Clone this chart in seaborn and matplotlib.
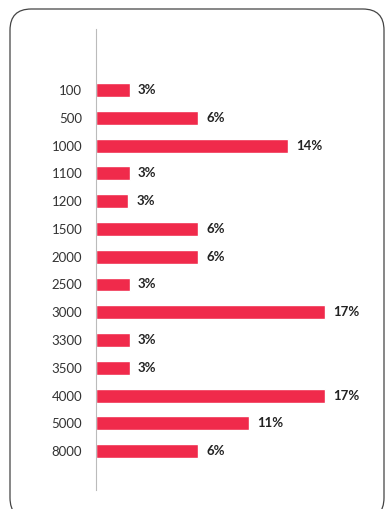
import matplotlib
matplotlib.use("Agg")
import matplotlib.pyplot as plt
import seaborn as sns
import pandas as pd
from matplotlib.patches import FancyBboxPatch

categories = ["100", "500", "1000", "1100", "1200", "1500", "2000", "2500",
              "3000", "3300", "3500", "4000", "5000", "8000"]
pct_labels = [3, 6, 14, 3, 3, 6, 6, 3, 17, 3, 3, 17, 11, 6]
# bar lengths as drawn in the picture (percent units)
bar_len = [2.5, 7.6, 14.3, 2.5, 2.4, 7.6, 7.6, 2.5, 17.0, 2.5, 2.5, 17.0, 11.4, 7.6]

df = pd.DataFrame({"cat": categories, "len": bar_len, "pct": pct_labels})

sns.set_style("white")
plt.rcParams["font.family"] = ["Lato", "DejaVu Sans"]

W, H = 386, 509
fig = plt.figure(figsize=(W / 100, H / 100), dpi=100)

# rounded card
card = FancyBboxPatch((10 / W, -10 / H), 374 / W, 510 / H,
                      boxstyle="round,pad=0,rounding_size=0.055",
                      transform=fig.transFigure, facecolor="white",
                      edgecolor="#444444", linewidth=0.9, mutation_aspect=W / H,
                      zorder=-5)
fig.patches.append(card)

ax = fig.add_axes([96 / W, 19 / H, 269 / W, 461 / H])
ax.set_facecolor("none")
ax.set_zorder(2)
sns.barplot(data=df, x="len", y="cat", color="#F02A4B", width=0.5,
            saturation=1, ax=ax, orient="h")

ax.set_xlim(0, 20)
ax.set_ylim(14.4, -2.2)
for i, (l, p) in enumerate(zip(bar_len, pct_labels)):
    ax.text(l + 0.6, i, f"{p}%", va="center", ha="left", fontsize=9.5,
            fontweight="bold", color="#222222")

ax.set_xlabel("")
ax.set_ylabel("")
ax.set_xticks([])
ax.tick_params(axis="y", length=0, pad=10, labelsize=9.5, labelcolor="#333333")
for s in ["top", "right", "bottom"]:
    ax.spines[s].set_visible(False)
ax.spines["left"].set_color("#bbbbbb")
ax.spines["left"].set_linewidth(0.8)

fig.savefig("out.png", dpi=100)
